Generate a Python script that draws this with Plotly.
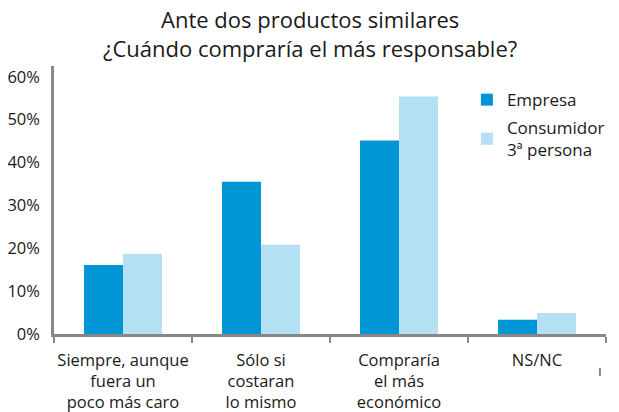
import plotly.graph_objects as go

categories = ["Siempre, aunque<br>fuera un<br>poco más caro", "Sólo si<br>costaran<br>lo mismo",
              "Compraría<br>el más<br>económico", "NS/NC"]
empresa = [16.1, 35.5, 45.1, 3.3]
consumidor = [18.7, 20.8, 55.4, 4.9]
series_names = ["Empresa", "Consumidor<br>3ª persona"]
title_text = "Ante dos productos similares<br>¿Cuándo compraría el más responsable?"

FONT = "Open Sans"
TXT = "#1a1a1a"
fig = go.Figure()
fig.add_trace(go.Bar(x=categories, y=empresa, name=series_names[0], marker_color="#0096d6",
                     marker_line_width=0, legendgroup="a"))
fig.add_trace(go.Bar(x=categories, y=consumidor, name=series_names[1], marker_color="#b3e0f2",
                     marker_line_width=0, legendgroup="b"))

# page has an 8px body margin; figure size/margins compensate for it
fig.update_layout(
    width=611, height=404,
    margin=dict(l=46, r=13, t=58, b=78, autoexpand=False),
    paper_bgcolor="white", plot_bgcolor="white",
    barmode="group", bargap=0.435, bargroupgap=0,
    font=dict(family=FONT, color=TXT),
    legend=dict(x=0.748, y=0.94, xanchor="left", yanchor="top",
                font=dict(size=17, family=FONT, color=TXT),
                bgcolor="rgba(0,0,0,0)", tracegroupgap=3, itemwidth=30),
    showlegend=True,
)
fig.add_annotation(text=title_text, xref="paper", yref="paper", x=0.464, y=1.122,
                   xanchor="center", yanchor="middle", showarrow=False,
                   font=dict(size=22, family=FONT, color=TXT))
fig.update_xaxes(showline=True, linecolor="#888888", linewidth=2.5,
                 ticks="outside", tickson="boundaries", ticklen=6, tickcolor="#888888", tickwidth=2,
                 ticklabelstandoff=9, tickangle=0, automargin=False,
                 tickfont=dict(size=16.5, family=FONT, color=TXT), showgrid=False)
fig.update_yaxes(range=[0, 62.5], dtick=10, ticksuffix="%", showline=True, linecolor="#888888",
                 linewidth=2.5, showgrid=False, zeroline=False, ticks="", ticklabelstandoff=8,
                 automargin=False,
                 tickfont=dict(size=16.5, family=FONT, color=TXT))
fig.add_shape(type="line", xref="paper", yref="paper", x0=0.989, x1=0.989, y0=-0.127, y1=-0.157,
              line=dict(color="#888888", width=2))

fig.write_html("out.html")
